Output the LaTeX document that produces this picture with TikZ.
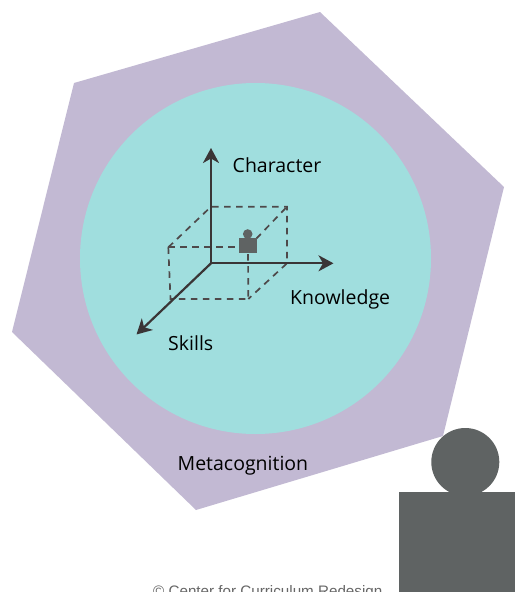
\documentclass[tikz,border=0pt]{standalone}
\usepackage{fontspec}
\setmainfont{Open Sans}
\newfontfamily\notefont{Liberation Sans}
\usetikzlibrary{arrows.meta}
\definecolor{lila}{RGB}{194,185,211}
\definecolor{tuerkis}{RGB}{160,222,222}
\definecolor{grau}{RGB}{95,99,99}
\definecolor{achse}{RGB}{58,53,54}
\begin{document}
\begin{tikzpicture}[x=1pt,y=-1pt,line cap=butt]
	\tikzstyle{axis}=[draw=achse,line width=2.2pt,-{Stealth[length=15pt,width=16pt,inset=4.5pt]}];
	\tikzstyle{help}=[draw=achse!90!white,line width=1.7pt,dash pattern=on 6.5pt off 5.5pt];
	\tikzstyle{label}=[text=black,font=\fontsize{19.5}{22}\selectfont,inner sep=0pt];
	\tikzstyle{person}=[fill=grau];
%<--------------------------------------------------------------------------->%
	\clip (0,0) rectangle (515,592);
	\coordinate (O)  at (211,263.3);
	\coordinate (C)  at (211,148);
	\coordinate (K)  at (333.5,263.3);
	\coordinate (S)  at (136.5,334.5);
	\coordinate (TL) at (168.3,247.3);
	\coordinate (TR) at (248,247.3);
	\coordinate (BL) at (170.5,299);
	\coordinate (BR) at (248.3,299);
	\coordinate (UL) at (211,206.7);
	\coordinate (UR) at (287,206.7);
	\coordinate (DR) at (287,263.3);
	%% background
	\path[fill=lila] (320,12) -- (504,187) -- (443,436) -- (196,510) -- (12,332) -- (74,83) --cycle;
	\path[fill=tuerkis] (255.5,258.5) circle (175.5);
	%% box
	\draw[help] (TL) -- (TR);
	\draw[help] (TL) -- (BL) -- (BR) -- (TR);
	\draw[help] (TL) -- (UL) -- (UR) -- (DR) -- (BR);
	\draw[help] (TR) -- (UR);
	%% small person
	\path[person] (238.7,237.7) rectangle (257,252.7);
	\path[person] (247.7,234) circle (4.8);
	%% axes
	\draw[axis] (O) -- (C);
	\draw[axis] (O) -- (K);
	\draw[axis] (O) -- (S);
	%% large person
	\path[person] (465.3,462) circle (34);
	\path[person] (399,492.3) rectangle (515,592);
	%% Final
	\node[label,anchor=base west] (character) at (232.5,172) {Character};
	\node[label,anchor=base west] (knowledge) at (290,304) {Knowledge};
	\node[label,anchor=base west] (skills) at (168,350.5) {Skills};
	\node[label,anchor=base west] (meta) at (177.5,470) {Metacognition};
	\node[anchor=base west,inner sep=0pt,text=black!60,font=\notefont\fontsize{15.2}{17}\selectfont] (note) at (153,596) {© Center for Curriculum Redesign};
\end{tikzpicture}
\end{document}
